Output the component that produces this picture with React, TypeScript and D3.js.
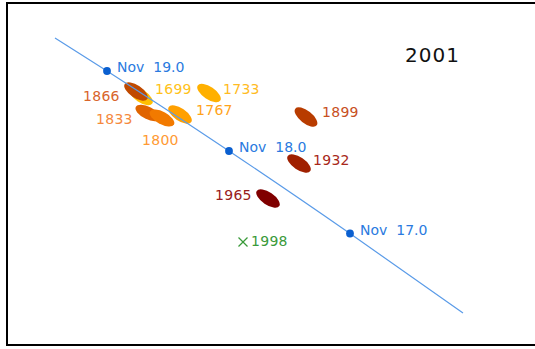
import React from "react";
import * as d3 from "d3";

// Sky-plane coordinates (arbitrary degree-like units, y grows downward)
const trackDays = [19.43, 19.0, 18.0, 17.0, 16.07];
const trackX = [1.2, 2.5, 5.55, 8.575, 11.4];
const trackY = [0.85, 1.675, 3.675, 5.7375, 7.725];
const nodeDays = ["Nov 19.0", "Nov 18.0", "Nov 17.0"];
const nodeIndex = [1, 2, 3];

const trailYears = ["1699", "1866", "1733", "1767", "1833", "1800", "1899", "1932", "1965"];
const trailX = [3.35, 3.225, 5.05, 4.325, 3.525, 3.875, 7.475, 7.3, 6.525];
const trailY = [2.3, 2.1875, 2.225, 2.7625, 2.725, 2.85, 2.825, 3.9875, 4.8625];
const trailTilt = [34, 34, 34, 34, 26, 28, 38, 34, 34];
const labelX = [3.7, 1.9, 5.4, 4.725, 2.225, 3.375, 7.875, 7.65, 5.2];
const labelY = [2.25, 2.425, 2.25, 2.775, 3.0, 3.525, 2.825, 4.025, 4.9];
const trailFill = ["#ffc000", "#c04a00", "#ffb000", "#ffa000", "#e06400", "#f27a00", "#b83c00", "#a02000", "#800000"];
const labelFill = ["#ffc21a", "#d9652b", "#ffbb22", "#ffa31a", "#f5893d", "#ff9a33", "#c8501e", "#a8281a", "#982020"];

const crossYear = "1998";
const crossX = 5.9;
const crossY = 5.95;

const title = "2001";
const titleX = 9.95;
const titleY = 1.45;

const W = 535;
const H = 349;

export default function App() {
  const x = d3.scaleLinear().domain([0, 13]).range([7, 527]);
  const y = d3.scaleLinear().domain([0, 8.5]).range([4, 344]);

  const trackPts: [number, number][] = trackDays.map((_, i) => [x(trackX[i]), y(trackY[i])]);
  const linePath = d3.line().curve(d3.curveMonotoneX)(trackPts) || "";

  const fontFamily = "'DejaVu Sans', sans-serif";
  const cx = x(crossX);
  const cy = y(crossY);
  const cs = 4.5;

  return (
    <svg
      width={W}
      height={H}
      style={{ position: "absolute", left: 0, top: 0, background: "#fff" }}
    >
      <rect x={7} y={3} width={540} height={342} fill="#fff" stroke="#000" strokeWidth={2} />

      {trailYears.map((yr, i) => (
        <ellipse
          key={"e" + yr}
          cx={0}
          cy={0}
          rx={13.6}
          ry={6.2}
          fill={trailFill[i]}
          transform={`translate(${x(trailX[i])},${y(trailY[i])}) rotate(${trailTilt[i]})`}
        />
      ))}

      <path d={linePath} fill="none" stroke="#5a9be8" strokeWidth={1.2} />

      {nodeIndex.map((ti, k) => (
        <g key={"n" + k}>
          <circle cx={trackPts[ti][0]} cy={trackPts[ti][1]} r={3.9} fill="#0a5fd0" />
          <text
            x={trackPts[ti][0] + 10}
            y={trackPts[ti][1] + 1}
            fontFamily={fontFamily}
            fontSize={14}
            fill="#2a7ae0"
            xmlSpace="preserve"
            style={{ whiteSpace: "pre" }}
          >
            {nodeDays[k].replace(" ", "  ")}
          </text>
        </g>
      ))}

      {trailYears.map((yr, i) => (
        <text
          key={"t" + yr}
          x={x(labelX[i])}
          y={y(labelY[i])}
          fontFamily={fontFamily}
          fontSize={14}
          letterSpacing={0.3}
          fill={labelFill[i]}
        >
          {yr}
        </text>
      ))}

      <g stroke="#3a9a3a" strokeWidth={1.3}>
        <line x1={cx - cs} y1={cy - cs} x2={cx + cs} y2={cy + cs} />
        <line x1={cx - cs} y1={cy + cs} x2={cx + cs} y2={cy - cs} />
      </g>
      <text x={cx + 8} y={cy + 4} fontFamily={fontFamily} fontSize={14} letterSpacing={0.3} fill="#3a9a3a">
        {crossYear}
      </text>

      <text x={x(titleX)} y={y(titleY)} fontFamily={fontFamily} fontSize={20} letterSpacing={1} fill="#111">
        {title}
      </text>
    </svg>
  );
}
